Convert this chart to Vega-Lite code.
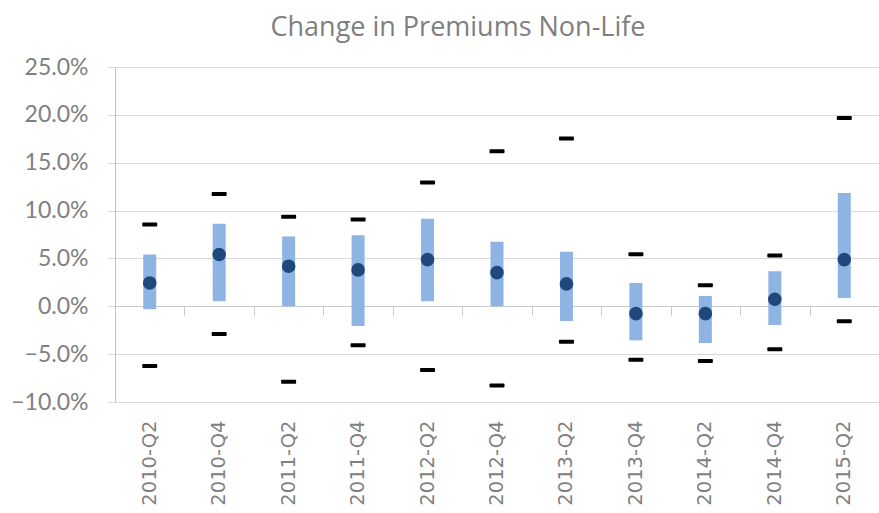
{
  "$schema": "https://vega.github.io/schema/vega-lite/v6.json",
  "autosize": "none",
  "width": 764,
  "height": 335,
  "padding": {"left": 115, "top": 67, "right": 0, "bottom": 111},
  "title": {
    "text": "Change in Premiums Non-Life",
    "font": "Open Sans",
    "fontSize": 27,
    "fontWeight": "normal",
    "color": "#7f7f7f",
    "anchor": "middle",
    "frame": "group",
    "dx": -39,
    "offset": 14
  },
  "data": {
    "values": [
      {"q": "2010-Q2", "hi": 0.0855, "lo": -0.0625, "bhi": 0.0541, "blo": -0.0031, "mid": 0.0244},
      {"q": "2010-Q4", "hi": 0.1172, "lo": -0.029, "bhi": 0.0862, "blo": 0.0052, "mid": 0.0541},
      {"q": "2011-Q2", "hi": 0.0935, "lo": -0.0789, "bhi": 0.0729, "blo": 0.0, "mid": 0.0419},
      {"q": "2011-Q4", "hi": 0.0907, "lo": -0.0408, "bhi": 0.0743, "blo": -0.0206, "mid": 0.038},
      {"q": "2012-Q2", "hi": 0.1294, "lo": -0.0666, "bhi": 0.0914, "blo": 0.0052, "mid": 0.0488},
      {"q": "2012-Q4", "hi": 0.1619, "lo": -0.0827, "bhi": 0.0673, "blo": 0.0, "mid": 0.0352},
      {"q": "2013-Q2", "hi": 0.1752, "lo": -0.037, "bhi": 0.0569, "blo": -0.0154, "mid": 0.0234},
      {"q": "2013-Q4", "hi": 0.0544, "lo": -0.0558, "bhi": 0.0244, "blo": -0.0356, "mid": -0.0077},
      {"q": "2014-Q2", "hi": 0.022, "lo": -0.0572, "bhi": 0.0108, "blo": -0.0384, "mid": -0.0077},
      {"q": "2014-Q4", "hi": 0.053, "lo": -0.045, "bhi": 0.0366, "blo": -0.0195, "mid": 0.0073},
      {"q": "2015-Q2", "hi": 0.1968, "lo": -0.0157, "bhi": 0.1183, "blo": 0.0087, "mid": 0.0488}
    ]
  },
  "layer": [
    {
      "mark": {"type": "bar", "width": 13, "color": "#8EB4E3"},
      "encoding": {
        "x": {
          "field": "q",
          "type": "nominal",
          "sort": null,
          "scale": {"paddingInner": 0, "paddingOuter": 0},
          "axis": {
            "orient": "bottom",
            "title": null,
            "domain": false,
            "ticks": false,
            "grid": false,
            "labelAngle": -90,
            "labelFont": "DejaVu Sans",
            "labelFontSize": 19.5,
            "labelColor": "#808080",
            "labelPadding": 18
          }
        },
        "y": {
          "field": "blo",
          "type": "quantitative",
          "scale": {"domain": [-0.1, 0.25], "nice": false, "zero": false},
          "axis": {
            "title": null,
            "values": [-0.1, -0.05, 0, 0.05, 0.1, 0.15, 0.2, 0.25],
            "format": ".1%",
            "grid": true,
            "gridColor": "#D9D9D9",
            "gridWidth": 1,
            "domain": true,
            "domainColor": "#BFBFBF",
            "tickColor": "#D9D9D9",
            "tickSize": 8,
            "labelPadding": 19,
            "labelFont": "Lato",
            "labelFontSize": 23,
            "labelColor": "#808080"
          }
        },
        "y2": {"field": "bhi"}
      }
    },
    {
      "mark": {"type": "tick", "color": "#000000", "opacity": 1, "thickness": 4, "size": 15, "cornerRadius": 1},
      "encoding": {
        "x": {"field": "q", "type": "nominal", "sort": null, "axis": null},
        "y": {"field": "hi", "type": "quantitative"}
      }
    },
    {
      "mark": {"type": "tick", "color": "#000000", "opacity": 1, "thickness": 4, "size": 15, "cornerRadius": 1},
      "encoding": {
        "x": {"field": "q", "type": "nominal", "sort": null, "axis": null},
        "y": {"field": "lo", "type": "quantitative"}
      }
    },
    {
      "mark": {"type": "point", "filled": true, "size": 185, "color": "#1F497D", "opacity": 1},
      "encoding": {
        "x": {
          "field": "q",
          "type": "nominal",
          "sort": null,
          "axis": {
            "orient": "top",
            "offset": -239,
            "title": null,
            "labels": false,
            "grid": false,
            "domain": true,
            "domainColor": "#C8C8C8",
            "ticks": true,
            "tickBand": "extent",
            "tickSize": -9,
            "tickColor": "#C8C8C8"
          }
        },
        "y": {"field": "mid", "type": "quantitative"}
      }
    }
  ],
  "resolve": {"axis": {"x": "independent"}},
  "config": {
    "view": {"stroke": null},
    "background": "#ffffff"
  }
}
